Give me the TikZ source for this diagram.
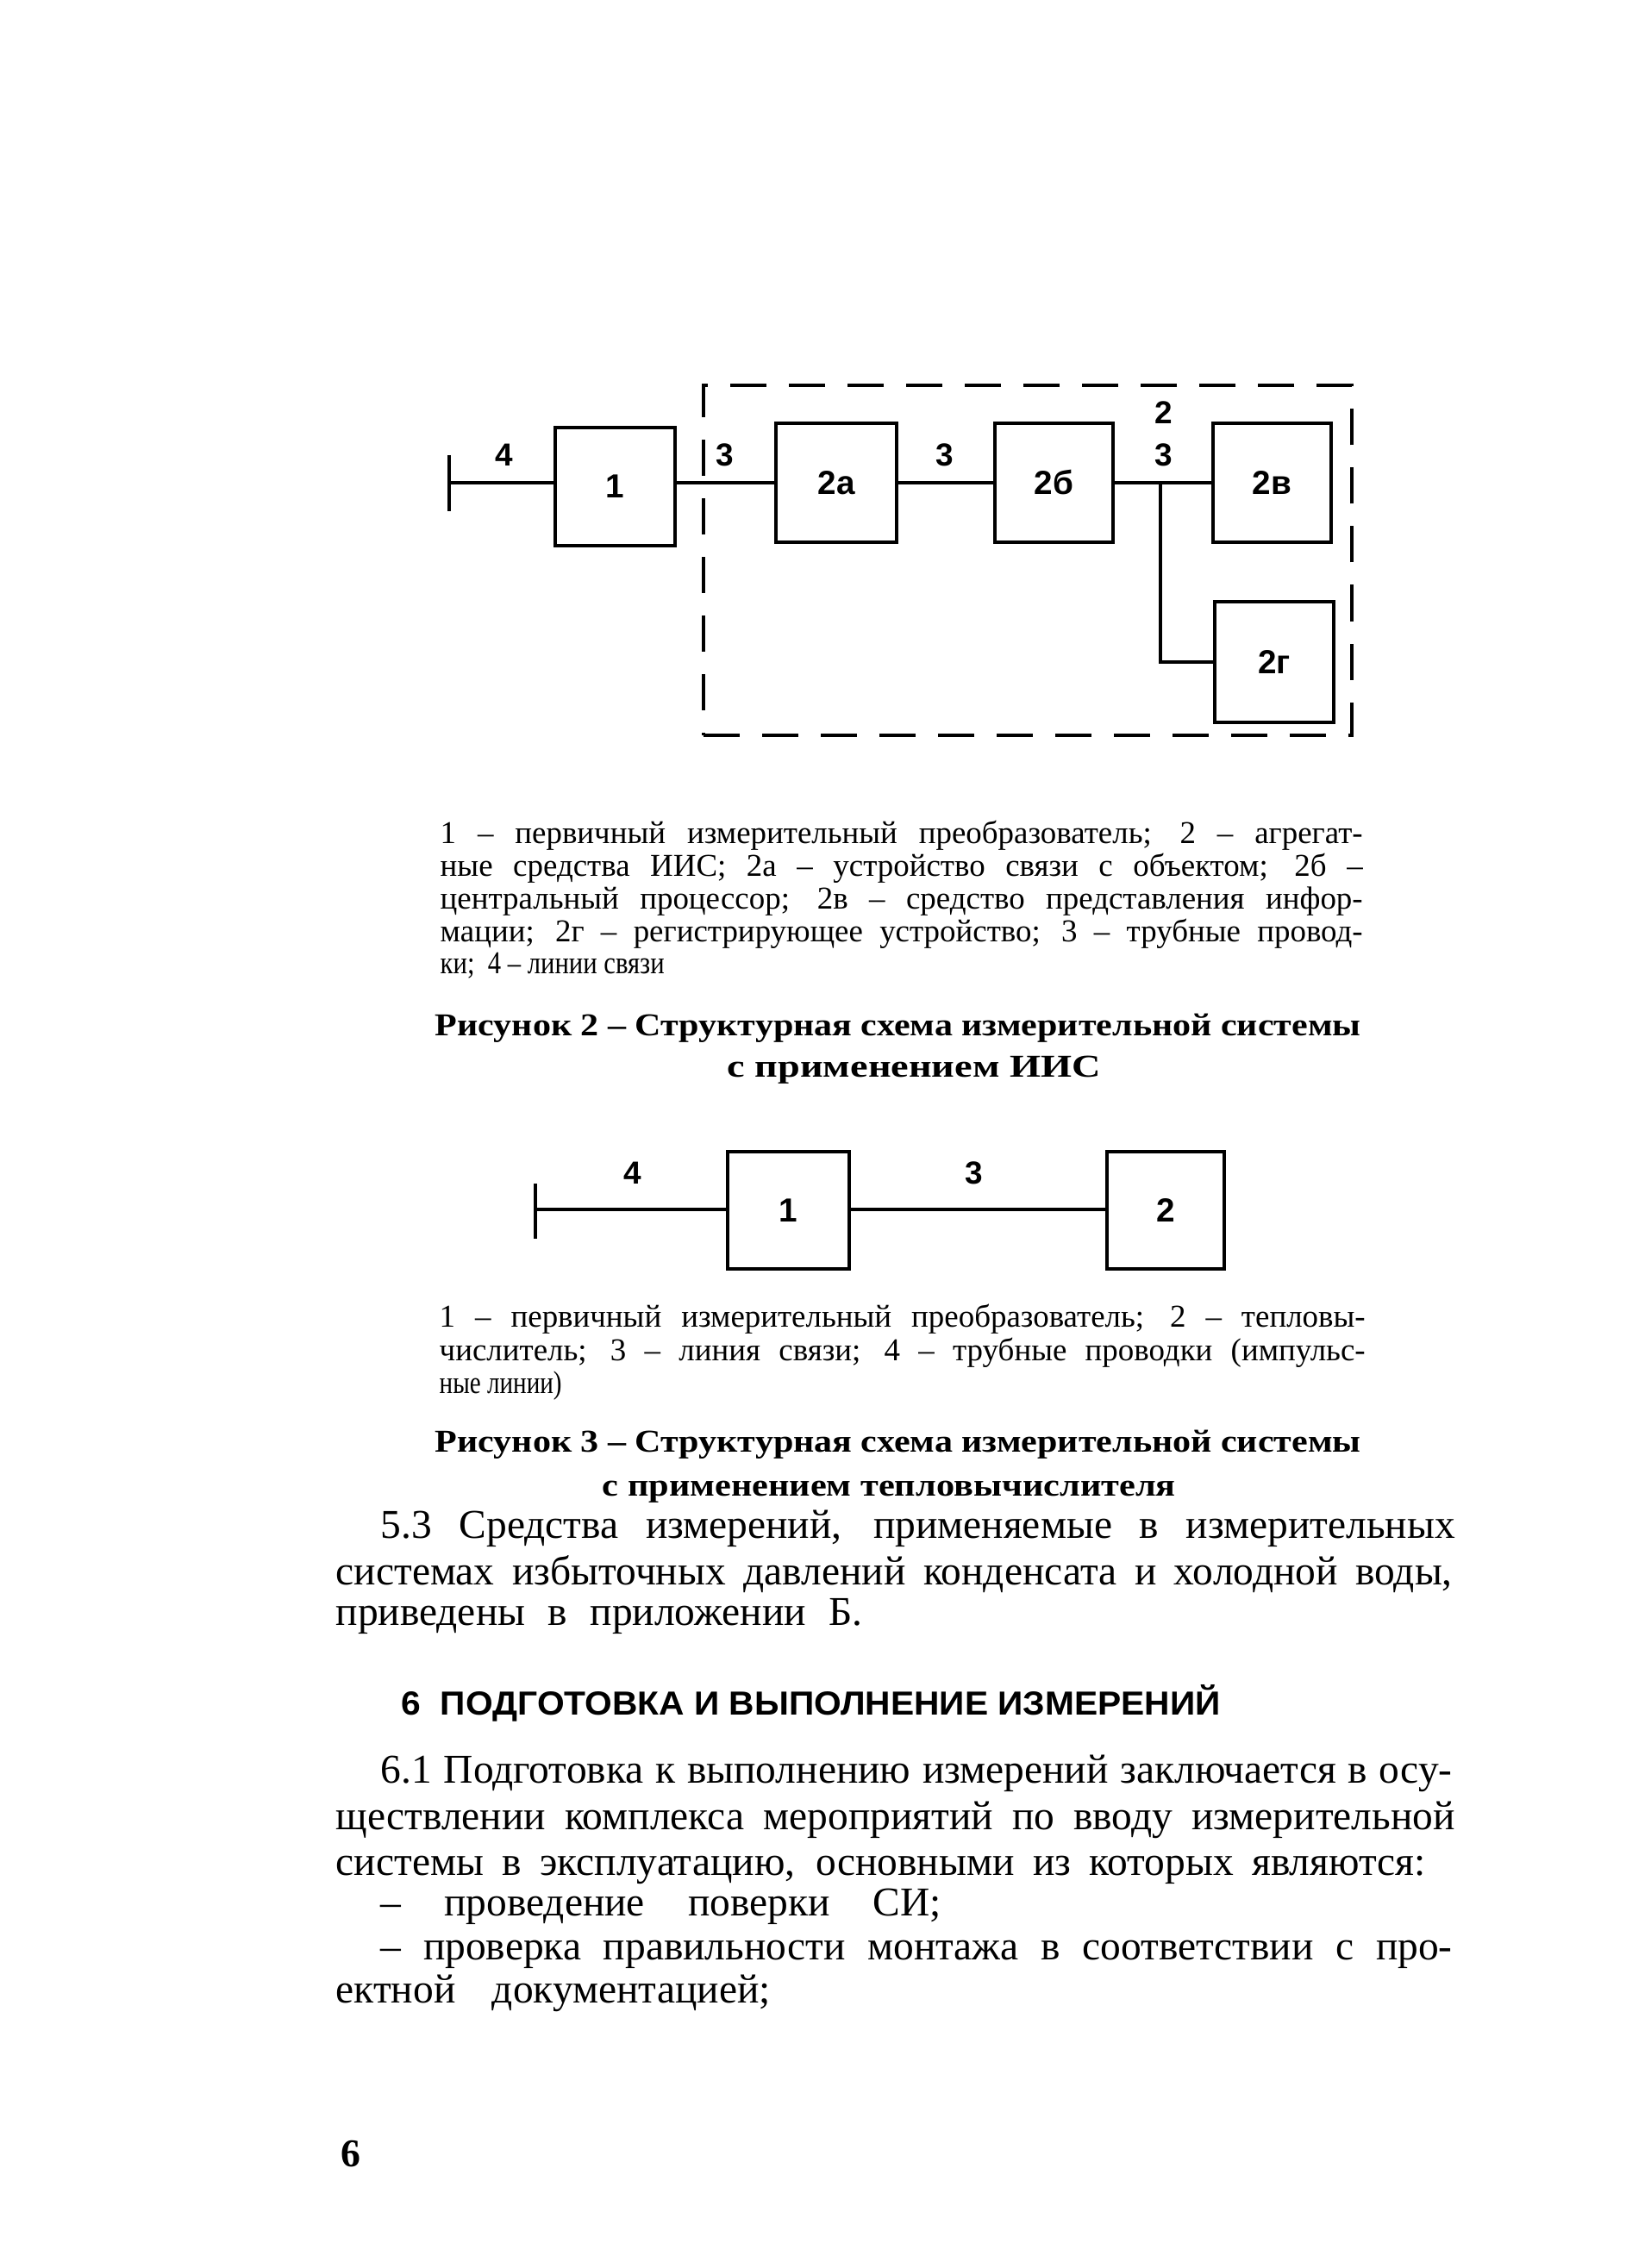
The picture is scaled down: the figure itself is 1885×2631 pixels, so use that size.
\documentclass[tikz,border=0pt]{standalone}
\usepackage{fontspec}
\setmainfont{Liberation Serif}
\setsansfont{Liberation Sans}
\usepackage{graphicx}
\newdimen\pxu \pxu=0.01cm
\newcommand\legfont{\fontsize{10.5pt}{12pt}\selectfont}
\newcommand\capfont{\fontsize{10.5pt}{12.5pt}\selectfont\bfseries}
\newcommand\bodyfont{\fontsize{13.5pt}{15pt}\selectfont}
\newcommand\headfont{\fontsize{11pt}{13pt}\selectfont\sffamily\bfseries}
\newsavebox\fitbox
% fit a line into a given width: spread the spaces if it is short, squeeze it if it is long
\newcommand\fitline[2]{\sbox\fitbox{#2}\ifdim\wd\fitbox>#1\relax\resizebox{#1}{\height}{\usebox\fitbox}\else\makebox[#1][s]{#2}\fi}
\newcommand\txtline[5]{\node[anchor=base west,inner sep=0pt] (#1) at (#2,#3) {\fitline{#4\pxu}{#5}};}
\newcommand\sqline[5]{\node[anchor=base west,inner sep=0pt] (#1) at (#2,#3) {\resizebox{#4\pxu}{\height}{#5}};}
\tikzset{
  blk/.style={draw, line width=0.9pt, inner sep=0pt, font=\fontsize{11pt}{13pt}\selectfont\sffamily\bfseries},
  lnk/.style={line width=0.9pt},
  num/.style={inner sep=0pt, font=\fontsize{10.5pt}{12pt}\selectfont\sffamily\bfseries},
  dashbox/.style={draw, line width=0.9pt, dash pattern=on 0.42cm off 0.26cm, inner sep=0pt}
}
\begin{document}
\begin{tikzpicture}[x=0.01cm,y=-0.01cm]
\useasboundingbox[fill=white] (0,0) rectangle (1885,2631);

% ---------- Figure 2 ----------
\node[dashbox, minimum width=752\pxu, minimum height=406\pxu] (sys) at (1192,650) {};
\coordinate (bar) at (521,560);
\coordinate (barT) at (521,528);
\coordinate (barB) at (521,593);
\draw[lnk] (barT) -- (barB);
\node[blk, minimum width=139\pxu, minimum height=137\pxu] (b1) at (713.5,564.5) {1};
\node[blk, minimum width=140\pxu, minimum height=138\pxu] (b2a) at (970,560) {2а};
\node[blk, minimum width=137\pxu, minimum height=138\pxu] (b2b) at (1222.5,560) {2б};
\node[blk, minimum width=137\pxu, minimum height=138\pxu] (b2v) at (1475.5,560) {2в};
\node[blk, minimum width=138\pxu, minimum height=140\pxu] (b2g) at (1478,768) {2г};
\coordinate (br) at (1346,560);
\draw[lnk] (bar) -- (bar -| b1.west);
\draw[lnk] (b1.east |- bar) -- (bar -| b2a.west);
\draw[lnk] (b2a.east |- bar) -- (bar -| b2b.west);
\draw[lnk] (b2b.east |- bar) -- (bar -| b2v.west);
\draw[lnk] (br) |- (b2g.west);
\node[num] (l4) at (585,528) {4};
\node[num] (l3a) at (841,528) {3};
\node[num] (l3b) at (1096,528) {3};
\node[num] (l2) at (1350,479) {2};
\node[num] (l3c) at (1350,528) {3};

% legend fig 2
\txtline{t1}{510}{978}{1070}{\legfont 1 – первичный измерительный преобразователь; 2 – агрегат-}
\txtline{t2}{510}{1016}{1070}{\legfont ные средства ИИС; 2а – устройство связи с объектом; 2б –}
\txtline{t3}{510}{1054}{1070}{\legfont центральный процессор; 2в – средство представления инфор-}
\txtline{t4}{510}{1092}{1070}{\legfont мации; 2г – регистрирующее устройство; 3 – трубные провод-}
\txtline{t5}{510}{1129}{260}{\legfont ки;\ \ 4 – линии связи}
\sqline{c1}{504}{1201}{1074}{\capfont Рисунок 2 – Структурная схема измерительной системы}
\sqline{c2}{843}{1249}{433}{\capfont с применением ИИС}

% ---------- Figure 3 ----------
\coordinate (bar2) at (621,1403);
\coordinate (bar2T) at (621,1373);
\coordinate (bar2B) at (621,1437);
\draw[lnk] (bar2T) -- (bar2B);
\node[blk, minimum width=141\pxu, minimum height=136\pxu] (c1b) at (914.5,1404) {1};
\node[blk, minimum width=136\pxu, minimum height=136\pxu] (c2b) at (1352,1404) {2};
\draw[lnk] (bar2) -- (bar2 -| c1b.west);
\draw[lnk] (c1b.east |- bar2) -- (bar2 -| c2b.west);
\node[num] (m4) at (734,1361) {4};
\node[num] (m3) at (1130,1361) {3};

\txtline{u1}{509}{1539}{1074}{\legfont 1 – первичный измерительный преобразователь; 2 – тепловы-}
\txtline{u2}{509}{1578}{1074}{\legfont числитель; 3 – линия связи; 4 – трубные проводки (импульс-}
\txtline{u3}{509}{1616}{142}{\legfont ные линии)}
\sqline{d1}{504}{1684}{1074}{\capfont Рисунок 3 – Структурная схема измерительной системы}
\sqline{d2}{698}{1735}{665}{\capfont с применением тепловычислителя}

% ---------- body text ----------
\txtline{p1}{441}{1784}{1246}{\bodyfont 5.3 Средства измерений, применяемые в измерительных}
\txtline{p2}{389}{1838}{1295}{\bodyfont системах избыточных давлений конденсата и холодной воды,}
\txtline{p3}{389}{1885}{611}{\bodyfont приведены в приложении Б.}

\sqline{h1}{465}{1989}{950}{\headfont 6\ \ ПОДГОТОВКА И ВЫПОЛНЕНИЕ ИЗМЕРЕНИЙ}

\txtline{q1}{441}{2068}{1243}{\bodyfont 6.1 Подготовка к выполнению измерений заключается в осу-}
\txtline{q2}{389}{2122}{1298}{\bodyfont ществлении комплекса мероприятий по вводу измерительной}
\txtline{q3}{389}{2175}{1264}{\bodyfont системы в эксплуатацию, основными из которых являются:}
\txtline{q4}{441}{2222}{650}{\bodyfont – проведение поверки СИ;}
\txtline{q5}{441}{2273}{1243}{\bodyfont – проверка правильности монтажа в соответствии с про-}
\txtline{q6}{389}{2323}{504}{\bodyfont ектной документацией;}

\node[anchor=base west, inner sep=0pt, font=\fontsize{13pt}{15pt}\selectfont\bfseries] (pg) at (395,2513) {6};
\end{tikzpicture}
\end{document}
